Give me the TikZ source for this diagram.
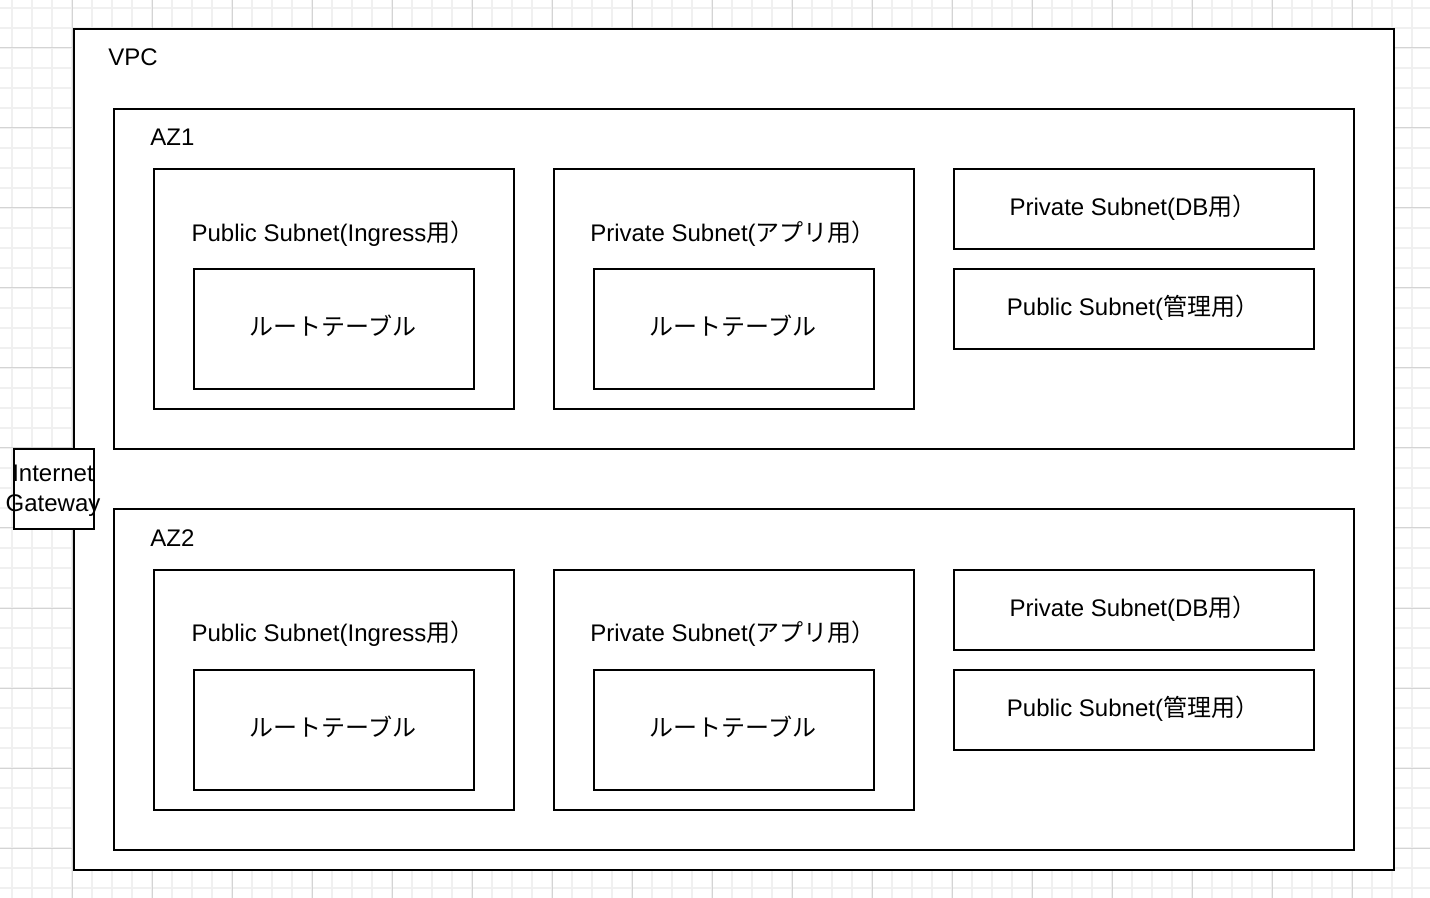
\documentclass[tikz,border=0pt]{standalone}
\usepackage{fontspec}
\setmainfont{Liberation Sans}
\newfontfamily\jp{Noto Sans CJK JP}

\tikzset{
	box/.style 2 args={shape=rectangle,draw=black,fill=white,line width=1pt,inner sep=0pt,anchor=north west,minimum width=#1*0.5pt,minimum height=#2*0.5pt},
	lbl/.style={inner sep=0pt,anchor=base,font=\fontsize{12}{14.5}\selectfont},
	minorgrid/.style={draw=black!6,line width=0.75pt},
	majorgrid/.style={draw=black!17,line width=0.5pt},
}

\begin{document}
\begin{tikzpicture}[x=0.5pt,y=-0.5pt]
	
	\useasboundingbox (0,0) rectangle (1430,898);
	\fill[white] (0,0) rectangle (1430,898);
	\foreach \x in {12,32,...,1412} \draw[minorgrid] (\x,0) -- (\x,898);
	\foreach \y in {8,28,...,888} \draw[minorgrid] (0,\y) -- (1430,\y);
	\foreach \x in {72,152,...,1352} \draw[majorgrid] (\x,0) -- (\x,898);
	\foreach \y in {48,128,...,848} \draw[majorgrid] (0,\y) -- (1430,\y);
	
	\node[box={1320}{840}] (vpc) at (72.5,28.5) {};
	\node[lbl,anchor=base west] (vpct) at (108,66) {VPC};
	
	\foreach \z/\dy in {1/0,2/400} {
		\node[box={1240}{340}] (az\z) at (112.5,108.5+\dy) {};
		\node[lbl,anchor=base west] (azt\z) at (150,146+\dy) {AZ\z};
		
		\node[box={360}{240}] (ing\z) at (152.5,168.5+\dy) {};
		\node[lbl] (ingt\z) at (333,241.5+\dy) {Public Subnet(Ingress{\jp 用）}};
		\node[box={280}{120}] (ingrt\z) at (192.5,268.5+\dy) {};
		\node[lbl] (ingrtt\z) at (333,336+\dy) {\jp ルートテーブル};
		
		\node[box={360}{240}] (app\z) at (552.5,168.5+\dy) {};
		\node[lbl] (appt\z) at (733,241.5+\dy) {Private Subnet({\jp アプリ用）}};
		\node[box={280}{120}] (apprt\z) at (592.5,268.5+\dy) {};
		\node[lbl] (apprtt\z) at (733,336+\dy) {\jp ルートテーブル};
		
		\node[box={360}{80}] (db\z) at (952.5,168.5+\dy) {};
		\node[lbl] (dbt\z) at (1133,216+\dy) {Private Subnet(DB{\jp 用）}};
		\node[box={360}{80}] (mgmt\z) at (952.5,268.5+\dy) {};
		\node[lbl] (mgmtt\z) at (1133,316+\dy) {Public Subnet({\jp 管理用）}};
	}
	
	\node[box={80}{80}] (igw) at (12.5,448.5) {};
	\node[lbl,anchor=base] (igwt1) at (53,482) {Internet};
	\node[lbl,anchor=base] (igwt2) at (53,512) {Gateway};
	
\end{tikzpicture}
\end{document}
